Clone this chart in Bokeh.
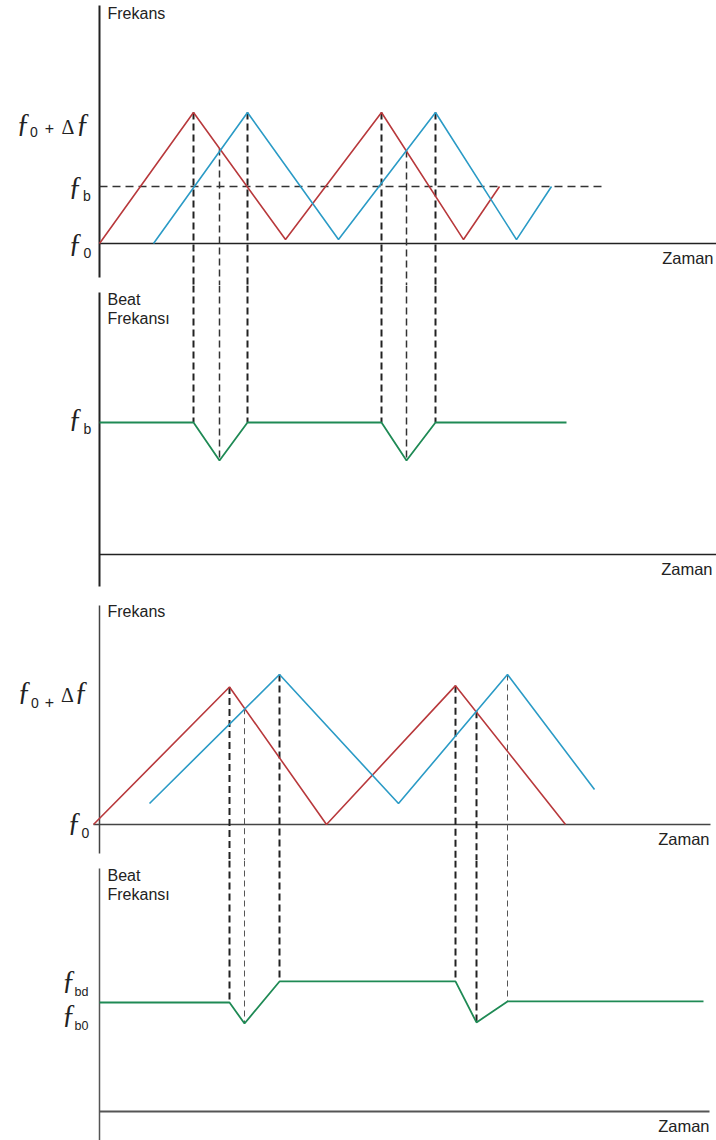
import numpy as np
from bokeh.plotting import figure
from bokeh.layouts import column
from bokeh.models import Range1d
from bokeh.core.properties import value
from bokeh.embed import file_html
from bokeh.resources import INLINE

# ---------------------------------------------------------------------------
# Data (time in arbitrary units; frequency normalised so that f0 = 0 and
# f0 + Δf = 1; beat frequency normalised to its steady value)
# ---------------------------------------------------------------------------

# Stationary target: transmitted (red) and received (blue) sweeps
tx1_t = [0.0, 9.4, 18.6, 28.2, 36.4, 40.0]
tx1_f = [0.0, 1.0, 0.03, 1.0, 0.03, 0.435]
rx1_t = [5.4, 14.8, 23.9, 33.6, 41.7, 45.2]
rx1_f = [0.0, 1.0, 0.03, 1.0, 0.03, 0.435]
fb1_level = 0.435
fb1_line_t = [0.0, 50.2]

# Stationary target: beat frequency
beat2_t = [0.0, 9.4, 12.0, 14.8, 28.2, 30.7, 33.6, 46.7]
beat2_f = [1.0, 1.0, 0.712, 1.0, 1.0, 0.712, 1.0, 1.0]

# Instants marked with dashed drop lines (peaks and crossings)
marks1_bold = [9.4, 14.8, 28.2, 33.6]
marks1_thin = [12.0, 30.7]

# Moving target: transmitted (red) and Doppler shifted received (blue)
tx3_t = [-0.6, 13.0, 22.7, 35.6, 46.6]
tx3_f = [0.0, 1.05, 0.0, 1.06, 0.0]
rx3_t = [5.0, 18.0, 29.9, 40.8, 49.5]
rx3_f = [0.16, 1.145, 0.16, 1.145, 0.267]

# Moving target: beat frequency
beat4_t = [0.0, 13.0, 14.5, 18.0, 35.6, 37.7, 40.8, 60.4]
beat4_f = [1.0, 1.0, 0.807, 1.193, 1.193, 0.817, 1.01, 1.01]
fbd_level = 1.193
fb0_level = 1.0

marks3_bold = [13.0, 18.0, 35.6, 37.7]
marks3_thin = [14.5, 40.8]

# ---------------------------------------------------------------------------
# Styling
# ---------------------------------------------------------------------------
RED = "#b8393c"
BLUE = "#2b9bc6"
GREEN = "#1f8a55"
INK = "#222222"
SERIF = "Liberation Serif"
SANS = "Liberation Sans"
FS = 28     # size of the script f
SUB = 14    # size of subscripts
TXT = 16    # axis titles

W = 716
T_MIN, T_MAX = -9.9, 61.7
SCALE = {}  # pixels per frequency unit for each panel


def panel(height, base_px, px_per_unit):
    """A bare drawing area; base_px = distance from panel top to the zero level."""
    p = figure(width=W, height=height,
               x_range=Range1d(T_MIN, T_MAX),
               y_range=Range1d(-(height - base_px) / px_per_unit, base_px / px_per_unit),
               output_backend="svg", toolbar_location=None,
               x_axis_location=None, y_axis_location=None,
               min_border=0, outline_line_color=None,
               background_fill_color="white", border_fill_color="white")
    p.grid.visible = False
    SCALE[p.id] = px_per_unit
    return p


def put(p, x, y, text, size, font=SANS, dx=0.0, dy=0.0, align="center",
        baseline="alphabetic", color=INK):
    p.text(x=[x], y=[y], text=[text], x_offset=dx, y_offset=dy,
           text_font=value(font), text_font_size=f"{size}px",
           text_align=align, text_baseline=baseline, text_color=color)


def sym(p, y, parts):
    """Draw a composed symbol label left of the vertical axis at level y."""
    for txt, font, size, dx, dy in parts:
        put(p, 0.0, y, txt, size, font=font, dx=dx, dy=dy)


def axes(p, top_gap, bottom_gap, x_start=0.0, x_end=T_MAX, color=INK, vw=2.0, hw=1.5):
    k = SCALE[p.id]
    y0 = p.y_range.start + bottom_gap / k
    y1 = p.y_range.end - top_gap / k
    p.segment(x0=[0.0], y0=[y0], x1=[0.0], y1=[y1], line_color=color, line_width=vw)
    p.segment(x0=[x_start], y0=[0.0], x1=[x_end], y1=[0.0], line_color=color, line_width=hw)


def drops(pf, pb, times, tx_t, tx_f, rx_t, rx_f, b_t, b_f, width, dash, color):
    t = np.asarray(times, dtype=float)
    top = np.maximum(np.interp(t, tx_t, tx_f), np.interp(t, rx_t, rx_f))
    bot = np.interp(t, b_t, b_f)
    n = len(t)
    pf.segment(x0=t, y0=top, x1=t, y1=[pf.y_range.start] * n,
               line_color=color, line_width=width, line_dash=dash)
    pb.segment(x0=t, y0=[pb.y_range.end] * n, x1=t, y1=bot,
               line_color=color, line_width=width, line_dash=dash)


p1 = panel(285, 243, 131)
p2 = panel(305, 269, 132)
p3 = panel(270, 234, 131)
p4 = panel(280, 251, 109)

# --- axes -------------------------------------------------------------------
axes(p1, 5, 8)
axes(p2, 7, 4)
axes(p3, 15, 7, x_start=-0.6, x_end=61.1, color="#444444", vw=1.5, hw=1.4)
axes(p4, 8, 0, x_end=61.0, color="#555555", vw=1.5, hw=2.0)

# --- dashed guides ----------------------------------------------------------
p1.segment(x0=[fb1_line_t[0]], y0=[fb1_level], x1=[fb1_line_t[1]], y1=[fb1_level],
           line_color="#333333", line_width=1.3, line_dash="8 5")
drops(p1, p2, marks1_bold, tx1_t, tx1_f, rx1_t, rx1_f, beat2_t, beat2_f, 2.0, "7 4", INK)
drops(p1, p2, marks1_thin, tx1_t, tx1_f, rx1_t, rx1_f, beat2_t, beat2_f, 1.5, "7 4", "#333333")
drops(p3, p4, marks3_bold, tx3_t, tx3_f, rx3_t, rx3_f, beat4_t, beat4_f, 2.0, "7 4", INK)
drops(p3, p4, marks3_thin, tx3_t, tx3_f, rx3_t, rx3_f, beat4_t, beat4_f, 1.0, "6 4", "#555555")

# --- sweeps and beat frequency ----------------------------------------------
p1.line(tx1_t, tx1_f, line_color=RED, line_width=1.6)
p1.line(rx1_t, rx1_f, line_color=BLUE, line_width=1.6)
p2.line(beat2_t, beat2_f, line_color=GREEN, line_width=1.8)
p3.line(tx3_t, tx3_f, line_color=RED, line_width=1.6)
p3.line(rx3_t, rx3_f, line_color=BLUE, line_width=1.6)
p4.line(beat4_t, beat4_f, line_color=GREEN, line_width=1.8)

# --- axis titles --------------------------------------------------------------
put(p1, 0.0, p1.y_range.end, "Frekans", TXT, dx=8, dy=12.5, align="left", baseline="middle")
put(p3, 0.0, p3.y_range.end, "Frekans", TXT, dx=8, dy=21, align="left", baseline="middle")
for p, top in ((p2, 14), (p4, 15)):
    put(p, 0.0, p.y_range.end, "Beat", TXT, dx=8, dy=top, align="left", baseline="middle")
    put(p, 0.0, p.y_range.end, "Frekansı", TXT, dx=8, dy=top + 19, align="left", baseline="middle")
for p, dx in ((p1, -3), (p2, -4), (p3, -7), (p4, -7)):
    put(p, T_MAX, 0.0, "Zaman", 16.5, dx=dx, dy=14, align="right", baseline="middle")

# --- level labels -------------------------------------------------------------
sym(p1, 1.0, [("ƒ", SERIF, FS, -76, 9.6), ("0", SANS, SUB, -65.5, 19),
              ("+", SANS, 16, -50, 15.5), ("Δ", SERIF, 20, -31.5, 14),
              ("ƒ", SERIF, FS, -16.5, 9.6)])
sym(p1, fb1_level, [("ƒ", SERIF, FS, -24, -1.4), ("b", SANS, SUB, -12.5, 9.5)])
sym(p1, 0.0, [("ƒ", SERIF, FS, -24, -1.4), ("0", SANS, SUB, -12, 9.5)])
sym(p2, 1.0, [("ƒ", SERIF, FS, -24, -5.4), ("b", SANS, SUB, -12, 6.5)])
sym(p3, 1.0, [("ƒ", SERIF, FS, -75, -3.4), ("0", SANS, SUB, -64.5, 9.5),
              ("+", SANS, 16, -50, 8.5), ("Δ", SERIF, 20, -32, 1),
              ("ƒ", SERIF, FS, -18, -3.4)])
sym(p3, 0.0, [("ƒ", SERIF, FS, -25, -3.4), ("0", SANS, SUB, -14, 8.5)])
sym(p4, fbd_level, [("ƒ", SERIF, FS, -30.5, -2.4), ("bd", SANS, 12.5, -18, 10.5)])
sym(p4, fb0_level, [("ƒ", SERIF, FS, -30.5, 10.6), ("b0", SANS, 12.5, -18, 23.5)])

layout = column(p1, p2, p3, p4, spacing=0)
open("out.html", "w").write(file_html(layout, INLINE))
